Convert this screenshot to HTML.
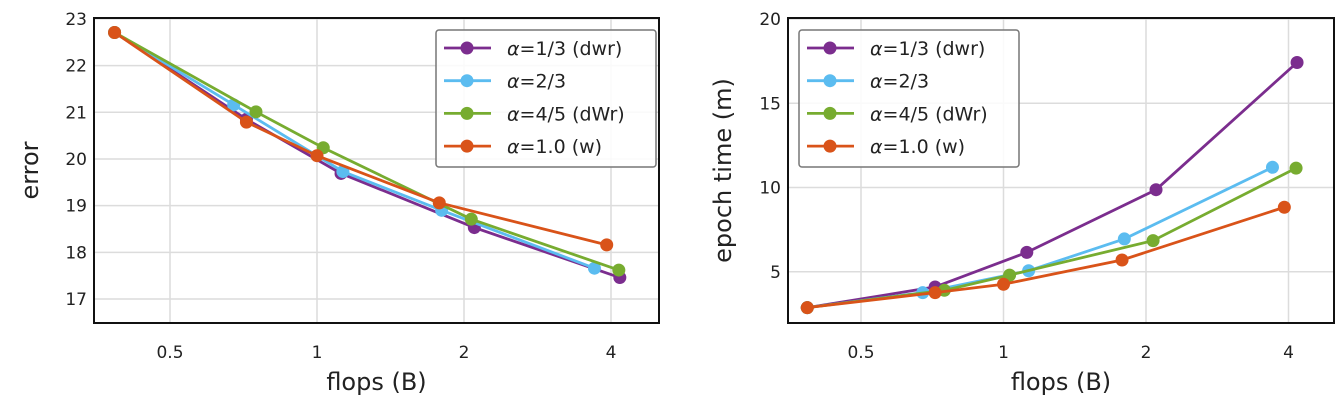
<!DOCTYPE html>
<html><head><meta charset="utf-8"><style>
body{margin:0;background:#fff;}
svg text{font-family:"DejaVu Sans","Liberation Sans",sans-serif;}
</style></head><body>
<svg id="chart" width="1342" height="402" xmlns="http://www.w3.org/2000/svg"></svg>
<script>
const seriesNames = ["=1/3 (dwr)", "=2/3", "=4/5 (dWr)", "=1.0 (w)"];
const seriesColors = ["#7b2d8e", "#5bbcf0", "#77ac30", "#d95319"];
const flopsPurple = [0.385, 0.717, 1.12, 2.1, 4.17];
const flopsBlue = [0.385, 0.675, 1.13, 1.8, 3.7];
const flopsGreen = [0.385, 0.75, 1.03, 2.07, 4.15];
const flopsOrange = [0.385, 0.717, 1.0, 1.78, 3.92];
const errorPurple = [22.71, 20.85, 19.69, 18.53, 17.46];
const errorBlue = [22.71, 21.16, 19.73, 18.9, 17.66];
const errorGreen = [22.71, 21.01, 20.24, 18.71, 17.62];
const errorOrange = [22.71, 20.79, 20.07, 19.06, 18.16];
const timePurple = [2.87, 4.1, 6.15, 9.87, 17.42];
const timeBlue = [2.87, 3.76, 5.06, 6.95, 11.2];
const timeGreen = [2.87, 3.9, 4.8, 6.85, 11.15];
const timeOrange = [2.87, 3.76, 4.26, 5.7, 8.83];
const xTicks = [0.5, 1, 2, 4];
const xTickLabels = ["0.5", "1", "2", "4"];
const errorTicks = [17, 18, 19, 20, 21, 22, 23];
const timeTicks = [5, 10, 15, 20];

const NS = "http://www.w3.org/2000/svg";
const svg = document.getElementById("chart");
function mk(tag, attrs, parent) {
  const e = document.createElementNS(NS, tag);
  for (const k in attrs) e.setAttribute(k, attrs[k]);
  (parent || svg).appendChild(e);
  return e;
}

function panel(cfg) {
  const g = mk("g", {});
  
  
  const xs = v => cfg.x1px + Math.log2(v) * cfg.dbl;
  const ys = v => cfg.top + (cfg.ymax - v) / (cfg.ymax - cfg.ymin) * (cfg.bottom - cfg.top);
  xTicks.forEach((t, i) => {
    const gl = mk("line", {x1: xs(t), x2: xs(t), y1: cfg.top, y2: cfg.bottom, stroke: "#dcdcdc", "stroke-width": 1.5}, g);
    
    
    const tl = mk("text", {x: xs(t), y: 358, "text-anchor": "middle", "font-size": 17, fill: "#222"}, g);
    tl.textContent = xTickLabels[i];
    
    
  });
  cfg.yticks.forEach(t => {
    const gl = mk("line", {x1: cfg.left, x2: cfg.right, y1: ys(t), y2: ys(t), stroke: "#dcdcdc", "stroke-width": 1.5}, g);
    
    
    const tl = mk("text", {x: cfg.left - 7, y: ys(t) + 6, "text-anchor": "end", "font-size": 17, fill: "#222"}, g);
    tl.textContent = t;
    
    
  });
  cfg.data.forEach((d, si) => {
    const pts = d.x.map((v, i) => xs(v) + "," + ys(d.y[i])).join(" ");
    const pl = mk("polyline", {points: pts, fill: "none", stroke: seriesColors[si], "stroke-width": 2.8}, g);
    
    
    d.x.forEach((v, i) => {
      const c = mk("circle", {cx: xs(v), cy: ys(d.y[i]), r: 6.5, fill: seriesColors[si]}, g);
      
      
    });
  });
  const fr = mk("rect", {x: cfg.left, y: cfg.top, width: cfg.right - cfg.left, height: cfg.bottom - cfg.top, fill: "none", stroke: "#111", "stroke-width": 2}, g);
  
  
  const xt = mk("text", {x: (cfg.left + cfg.right) / 2, y: 390, "text-anchor": "middle", "font-size": 24, fill: "#222"}, g);
  xt.textContent = "flops (B)";
  
  
  const yt = mk("text", {x: 0, y: 0, "text-anchor": "middle", "font-size": 24, fill: "#222", transform: `translate(${cfg.ytx},${(cfg.top + cfg.bottom) / 2}) rotate(-90)`}, g);
  yt.textContent = cfg.ytitle;
  
  
  const lg = mk("g", {}, g);
  
  
  mk("rect", {x: cfg.lx, y: 30, width: 220, height: 137, rx: 3, fill: "#fff", "fill-opacity": 0.85, stroke: "#777", "stroke-width": 1.5}, lg);
  seriesNames.forEach((n, i) => {
    const y = 48 + i * 32.7;
    const e = mk("g", {}, lg);
    
    
    mk("line", {x1: cfg.lx + 8, x2: cfg.lx + 55, y1: y, y2: y, stroke: seriesColors[i], "stroke-width": 2.8}, e);
    mk("circle", {cx: cfg.lx + 31, cy: y, r: 6.5, fill: seriesColors[i]}, e);
    const t = mk("text", {x: cfg.lx + 71, y: y + 7, "font-size": 19, fill: "#222"}, e);
    const a = mk("tspan", {"font-style": "italic"}, t);
    a.textContent = "α";
    const r = mk("tspan", {}, t);
    r.textContent = n;
  });
}

panel({name: "error-chart", left: 94, right: 659, top: 18, bottom: 323, x1px: 317, dbl: 147,
  ymin: 16.486, ymax: 23.02, yticks: errorTicks, ytitle: "error", ytx: 38, lx: 436,
  data: [{x: flopsPurple, y: errorPurple}, {x: flopsBlue, y: errorBlue}, {x: flopsGreen, y: errorGreen}, {x: flopsOrange, y: errorOrange}]});
panel({name: "epoch-time-chart", left: 788, right: 1334, top: 18, bottom: 323, x1px: 1003.5, dbl: 142.5,
  ymin: 1.96, ymax: 20.06, yticks: timeTicks, ytitle: "epoch time (m)", ytx: 731, lx: 799,
  data: [{x: flopsPurple, y: timePurple}, {x: flopsBlue, y: timeBlue}, {x: flopsGreen, y: timeGreen}, {x: flopsOrange, y: timeOrange}]});
</script>
</body></html>
